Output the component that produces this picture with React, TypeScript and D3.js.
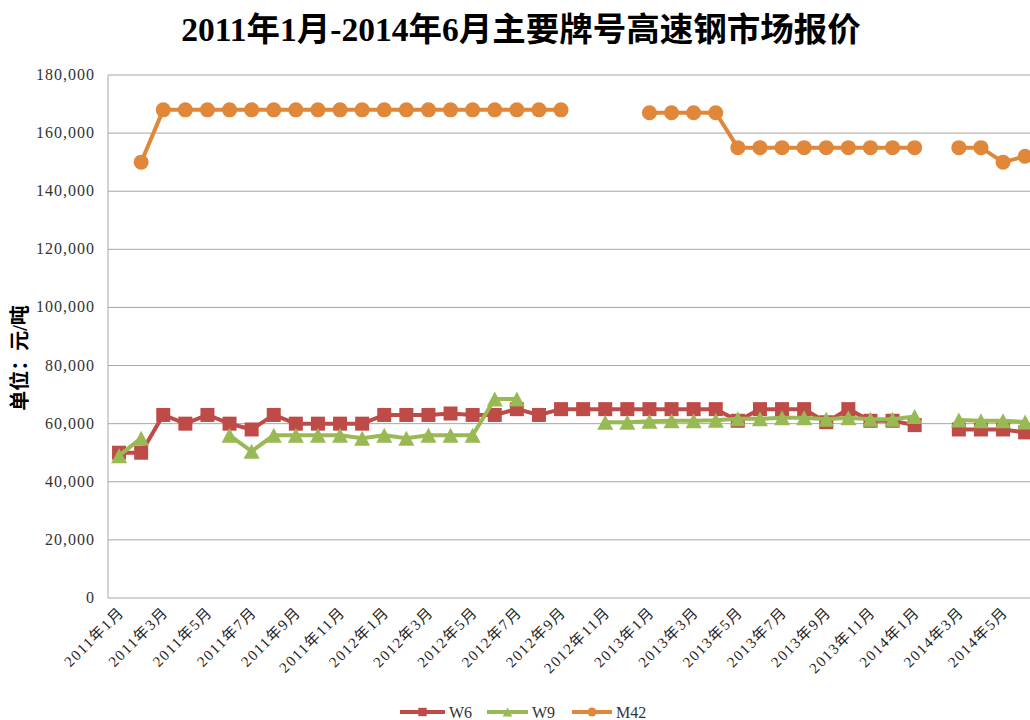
import * as d3 from "d3";

const months = [
  "2011年1月", "2011年2月", "2011年3月", "2011年4月", "2011年5月", "2011年6月",
  "2011年7月", "2011年8月", "2011年9月", "2011年10月", "2011年11月", "2011年12月",
  "2012年1月", "2012年2月", "2012年3月", "2012年4月", "2012年5月", "2012年6月",
  "2012年7月", "2012年8月", "2012年9月", "2012年10月", "2012年11月", "2012年12月",
  "2013年1月", "2013年2月", "2013年3月", "2013年4月", "2013年5月", "2013年6月",
  "2013年7月", "2013年8月", "2013年9月", "2013年10月", "2013年11月", "2013年12月",
  "2014年1月", "2014年2月", "2014年3月", "2014年4月", "2014年5月", "2014年6月",
];

// 元/吨, null = no quote that month
const w6 = [
  50000, 50000, 63000, 60000, 63000, 60000, 58000, 63000, 60000, 60000, 60000, 60000,
  63000, 63000, 63000, 63500, 63000, 63000, 65000, 63000, 65000, 65000, 65000, 65000,
  65000, 65000, 65000, 65000, 61000, 65000, 65000, 65000, 60500, 65000, 61000, 61000,
  59500, null, 58000, 58000, 58000, 57000,
];

const w9 = [
  49000, 55000, null, null, null, 56000, 50500, 56000, 56000, 56000, 56000, 55000,
  56000, 55000, 56000, 56000, 56000, 68500, 68500, null, null, null, 60500, 60500,
  60800, 61000, 61000, 61200, 61700, 61700, 62000, 62000, 61500, 62000, 61500, 61500,
  62500, null, 61300, 61000, 61000, 60600,
];

const m42 = [
  null, 150000, 168000, 168000, 168000, 168000, 168000, 168000, 168000, 168000, 168000, 168000,
  168000, 168000, 168000, 168000, 168000, 168000, 168000, 168000, 168000, null, null, null,
  167000, 167000, 167000, 167000, 155000, 155000, 155000, 155000, 155000, 155000, 155000, 155000,
  155000, null, 155000, 155000, 150000, 152000,
];

const yTicks = [0, 20000, 40000, 60000, 80000, 100000, 120000, 140000, 160000, 180000];

const series = [
  { name: "W6", values: w6, color: "#BE4B48", marker: "square" },
  { name: "W9", values: w9, color: "#98B954", marker: "triangle" },
  { name: "M42", values: m42, color: "#E0873A", marker: "circle" },
];

const W = 1030;
const H = 720;
const left = 108;
const top = 75;
const bottom = 598;
const band = 22.1;

const serif = '"Liberation Serif", "DejaVu Serif", "Noto Sans CJK SC", serif';

function Marker({ type, x, y, color, s = 1 }) {
  if (type === "square") {
    const h = 7 * s;
    return <rect x={x - h} y={y - h} width={2 * h} height={2 * h} fill={color} />;
  }
  if (type === "triangle") {
    const hw = 8 * s;
    const hh = 7.5 * s;
    return (
      <path
        d={`M${x},${y - hh}L${x + hw},${y + hh}L${x - hw},${y + hh}Z`}
        fill={color}
      />
    );
  }
  return <circle cx={x} cy={y} r={7.5 * s} fill={color} />;
}

export default function App() {
  const x = d3
    .scaleBand()
    .domain(months)
    .range([left, left + band * months.length]);
  const y = d3.scaleLinear().domain([0, 180000]).range([bottom, top]);
  const cx = (i) => x(months[i]) + x.bandwidth() / 2;

  const line = d3
    .line()
    .defined((d) => d != null)
    .x((d, i) => cx(i))
    .y((d) => y(d));

  const fmt = d3.format(",");

  const legend = [
    { x0: 400, x1: 445, tx: 449 },
    { x0: 487, x1: 528, tx: 532 },
    { x0: 572, x1: 612, tx: 616 },
  ];

  return (
    <div style={{ position: "fixed", left: 0, top: 0 }}>
      <svg width={W} height={H} style={{ display: "block", background: "#fff" }}>
        <text
          x={521}
          y={41}
          textAnchor="middle"
          fontFamily={serif}
          fontWeight="bold"
          fontSize={33.5}
        >
          2011年1月-2014年6月主要牌号高速钢市场报价
        </text>

        {yTicks.map((t) => (
          <g key={t}>
            <line x1={left} x2={W} y1={y(t)} y2={y(t)} stroke="#a6a6a6" strokeWidth={1} />
            <text
              x={95}
              y={y(t) + 5}
              textAnchor="end"
              fontFamily={serif}
              fontSize={16}
              letterSpacing={1}
              fill="#333"
            >
              {t === 0 ? "0" : fmt(t)}
            </text>
          </g>
        ))}
        <line x1={left} x2={left} y1={top} y2={bottom} stroke="#a6a6a6" strokeWidth={1} />

        <text
          transform={`translate(27, 358) rotate(-90)`}
          textAnchor="middle"
          fontFamily={serif}
          fontWeight="bold"
          fontSize={20}
        >
          单位：元/吨
        </text>

        {months.map((m, i) =>
          i % 2 === 0 ? (
            <text
              key={m}
              transform={`translate(${cx(i) + 6}, 613) rotate(-45)`}
              textAnchor="end"
              fontFamily={serif}
              fontSize={15}
              letterSpacing={1.5}
              fill="#222"
            >
              {m}
            </text>
          ) : null
        )}

        {series.map((s) => (
          <g key={s.name}>
            <path d={line(s.values)} fill="none" stroke={s.color} strokeWidth={4} />
            {s.values.map((v, i) =>
              v == null ? null : (
                <Marker key={i} type={s.marker} x={cx(i)} y={y(v)} color={s.color} />
              )
            )}
          </g>
        ))}

        {series.map((s, k) => {
          const l = legend[k];
          return (
            <g key={s.name}>
              <line x1={l.x0} x2={l.x1} y1={712} y2={712} stroke={s.color} strokeWidth={4} />
              <Marker type={s.marker} x={(l.x0 + l.x1) / 2} y={712} color={s.color} s={0.6} />
              <text x={l.tx} y={718} fontFamily={serif} fontSize={16} fill="#333">
                {s.name}
              </text>
            </g>
          );
        })}
      </svg>
    </div>
  );
}
